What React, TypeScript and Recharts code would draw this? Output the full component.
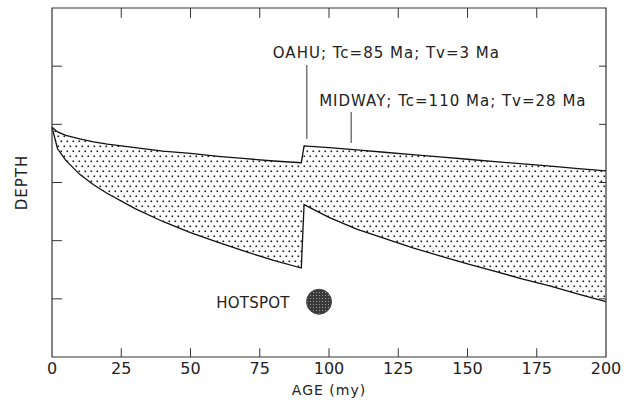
import React from 'react';
import { AreaChart, Area, XAxis, YAxis, ReferenceLine, ReferenceArea, ReferenceDot } from 'recharts';

// plate age (my) and the two depth curves (depth in tick units, 0 = top)
const ages = [0, 2, 5, 10, 15, 20, 30, 40, 50, 60, 70, 80, 90, 91, 100, 110, 120, 130, 140, 150, 160, 170, 180, 190, 200];
const shallow = [2.05, 2.13, 2.19, 2.25, 2.3, 2.34, 2.4, 2.46, 2.5, 2.55, 2.59, 2.63, 2.66, 2.37, 2.4, 2.44, 2.48, 2.52, 2.56, 2.6, 2.64, 2.68, 2.72, 2.76, 2.8];
const deep = [2.05, 2.42, 2.62, 2.86, 3.04, 3.19, 3.45, 3.67, 3.86, 4.03, 4.19, 4.34, 4.47, 3.38, 3.6, 3.8, 3.96, 4.12, 4.26, 4.4, 4.53, 4.66, 4.78, 4.92, 5.05];

const xTicks = [0, 25, 50, 75, 100, 125, 150, 175, 200];
const innerXTicks = [25, 50, 75, 100, 125, 150, 175];
const innerYTicks = [1, 2, 3, 4, 5];

const oahuLine = { age: 92, from: 0.98, to: 2.25 };
const midwayLine = { age: 108, from: 1.79, to: 2.32 };
const hotspot = { age: 96.4, depth: 5.05 };

const FONT = 'DejaVu Sans';
const INK = '#222';

const data = ages.map((age, i) => ({ age, band: [shallow[i], deep[i]] }));

const App: React.FC = () => {
  return (
    <div style={{ position: 'absolute', left: 0, top: 0, background: '#fff' }}>
      <AreaChart
        width={630}
        height={400}
        data={data}
        margin={{ top: 8, right: 24, bottom: 8, left: 12 }}
        style={{ fontFamily: FONT }}
      >
        <defs>
          <pattern id="stipple" width="6" height="10" patternUnits="userSpaceOnUse">
            <rect x="0.5" y="0.5" width="1.6" height="1.6" fill="#1a1a1a" />
            <rect x="3.5" y="5.5" width="1.6" height="1.6" fill="#1a1a1a" />
          </pattern>
          <pattern id="mottle" width="3" height="3" patternUnits="userSpaceOnUse">
            <rect width="3" height="3" fill="#3a3a3a" />
            <rect x="1" y="1" width="1" height="1" fill="#9a9a9a" />
          </pattern>
        </defs>
        <XAxis
          type="number"
          dataKey="age"
          domain={[0, 200]}
          ticks={xTicks}
          interval={0}
          tickLine={false}
          axisLine={false}
          tickSize={0}
          tickMargin={6}
          height={35}
          tick={{ fontSize: 16, fill: INK, fontFamily: FONT }}
          label={{ value: 'AGE (my)', position: 'insideBottom', offset: -3, fontSize: 14, fill: INK, letterSpacing: 1 }}
        />
        <YAxis
          type="number"
          domain={[0, 6]}
          reversed
          tick={false}
          tickLine={false}
          axisLine={false}
          width={40}
          label={(p: any) => {
            const vb = p.viewBox || { x: 12, y: 8, width: 40, height: 349 };
            const cx = vb.x + 10;
            const cy = vb.y + vb.height / 2;
            return (
              <text x={cx} y={cy} transform={`rotate(-90 ${cx} ${cy})`} textAnchor="middle" dominantBaseline="central"
                fontSize={15} fill={INK} fontFamily={FONT} letterSpacing={1}>
                DEPTH
              </text>
            );
          }}
        />
        <Area
          type="linear"
          dataKey="band"
          stroke="#111"
          strokeWidth={1.3}
          fill="url(#stipple)"
          fillOpacity={1}
          dot={false}
          activeDot={false}
          isAnimationActive={false}
        />
        <ReferenceArea x1={0} x2={200} y1={0} y2={6} fill="none" stroke="#333" strokeWidth={1.2} />
        {innerXTicks.map(t => (
          <ReferenceLine key={'t' + t} segment={[{ x: t, y: 0 }, { x: t, y: 0.17 }]} stroke="#333" />
        ))}
        {innerXTicks.map(t => (
          <ReferenceLine key={'b' + t} segment={[{ x: t, y: 6 }, { x: t, y: 5.85 }]} stroke="#333" />
        ))}
        {innerYTicks.map(t => (
          <ReferenceLine key={'l' + t} segment={[{ x: 0, y: t }, { x: 3.6, y: t }]} stroke="#333" />
        ))}
        {innerYTicks.map(t => (
          <ReferenceLine key={'r' + t} segment={[{ x: 200, y: t }, { x: 197.5, y: t }]} stroke="#333" />
        ))}
        <ReferenceLine
          segment={[{ x: oahuLine.age, y: oahuLine.from }, { x: oahuLine.age, y: oahuLine.to }]}
          stroke="#333"
          label={(p: any) => (
            <text x={p.viewBox.x - 34} y={p.viewBox.y - 7} fontSize={15} fill={INK} fontFamily={FONT} letterSpacing={1}>
              OAHU; Tc=85 Ma; Tv=3 Ma
            </text>
          )}
        />
        <ReferenceLine
          segment={[{ x: midwayLine.age, y: midwayLine.from }, { x: midwayLine.age, y: midwayLine.to }]}
          stroke="#333"
          label={(p: any) => (
            <text x={p.viewBox.x - 32} y={p.viewBox.y - 6} fontSize={15} fill={INK} fontFamily={FONT} letterSpacing={1}>
              MIDWAY; Tc=110 Ma; Tv=28 Ma
            </text>
          )}
        />
        <ReferenceDot
          x={hotspot.age}
          y={hotspot.depth}
          r={12.5}
          fill="url(#mottle)"
          stroke="#444"
          label={(p: any) => (
            <text x={p.viewBox.x - 17} y={p.viewBox.y + 19} textAnchor="end" fontSize={15} fill={INK} fontFamily={FONT} letterSpacing={0.2}>
              HOTSPOT
            </text>
          )}
        />
      </AreaChart>
    </div>
  );
};

export default App;
